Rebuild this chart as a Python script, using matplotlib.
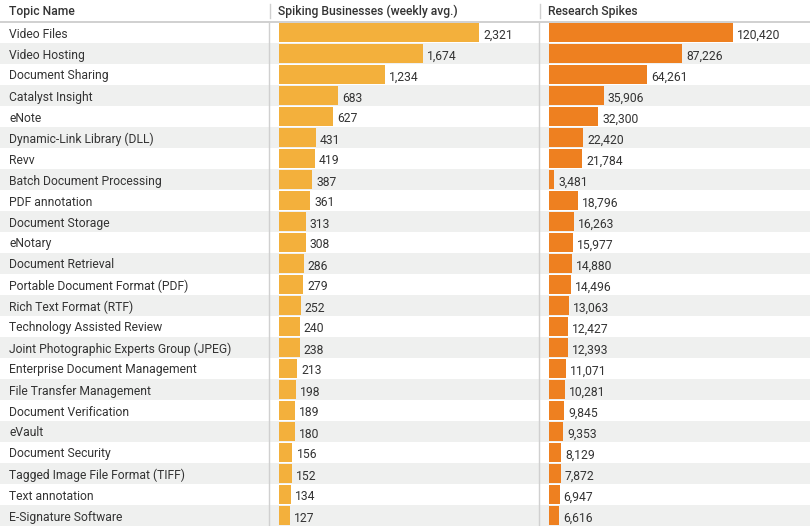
import matplotlib

matplotlib.use("Agg")
import matplotlib.pyplot as plt
from matplotlib.transforms import offset_copy

topics = [
    "Video Files", "Video Hosting", "Document Sharing", "Catalyst Insight", "eNote",
    "Dynamic-Link Library (DLL)", "Revv", "Batch Document Processing", "PDF annotation",
    "Document Storage", "eNotary", "Document Retrieval", "Portable Document Format (PDF)",
    "Rich Text Format (RTF)", "Technology Assisted Review", "Joint Photographic Experts Group (JPEG)",
    "Enterprise Document Management", "File Transfer Management", "Document Verification",
    "eVault", "Document Security", "Tagged Image File Format (TIFF)", "Text annotation",
    "E-Signature Software",
]
spiking = [2321, 1674, 1234, 683, 627, 431, 419, 387, 361, 313, 308, 286, 279, 252,
           240, 238, 213, 198, 189, 180, 156, 152, 134, 127]
research = [120420, 87226, 64261, 35906, 32300, 22420, 21784, 3481, 18796, 16263, 15977,
            14880, 14496, 13063, 12427, 12393, 11071, 10281, 9845, 9353, 8129, 7872, 6947, 6616]
headers = ["Topic Name", "Spiking Businesses (weekly avg.)", "Research Spikes"]

plt.rcParams["font.family"] = ["Roboto", "DejaVu Sans"]

W, H = 810, 526
ROW = 21.0
HEAD = 22.0
n = len(topics)
ylim = (n - 0.5, -0.5 - HEAD / ROW)
TXT = "#333333"
GRID = "#d0d0d0"
FS = 8.7

fig = plt.figure(figsize=(W / 100, H / 100), dpi=100)
bg = fig.add_axes([0, 0, 1, 1])
bg.set_xlim(0, W)
bg.set_ylim(*ylim)
bg.axis("off")
for i in range(n):
    if i % 2 == 1:
        bg.axhspan(i - 0.5, i + 0.5, color="#eff0ef", lw=0)
bg.axhline(-0.5, color="#c8c8c8", lw=1.2)
head_y = -0.5 - HEAD / ROW / 2
for x in (269, 539):
    bg.plot([x, x], [n - 0.5, -0.5], color=GRID, lw=1)
    bg.plot([x + 1, x + 1], [-0.5 - 4 / ROW, -0.5 - 18 / ROW], color=GRID, lw=1)
for x, h in zip((9, 278, 548), headers):
    bg.text(x, head_y, h, ha="left", va="center", fontsize=FS, fontweight=500, color=TXT)
name_tr = offset_copy(bg.transData, fig=fig, x=0, y=-1.5, units="dots")
for i, t in enumerate(topics):
    bg.text(9, i, t, transform=name_tr, ha="left", va="center", fontsize=FS, color=TXT)


def bar_column(left_px, width_px, values, color, scale_px):
    # scale_px: pixels per unit; bars start 10 px in from the column edge
    ax = fig.add_axes([left_px / W, 0, width_px / W, 1])
    ax.patch.set_alpha(0)
    ax.set_xlim(-10 / scale_px, (width_px - 10) / scale_px)
    ax.set_ylim(*ylim)
    ax.axis("off")
    ax.barh(range(n), values, height=19 / ROW, color=color, lw=0)
    tr = offset_copy(ax.transData, fig=fig, x=4, y=-2.5, units="dots")
    for i, v in enumerate(values):
        ax.text(v, i, f"{v:,}", transform=tr, ha="left", va="center", fontsize=FS, color=TXT)
    return ax


bar_column(269, 270, spiking, "#f3b03c", 200 / 2321)
bar_column(539, 271, research, "#ee8020", 184 / 120420)

fig.savefig("out.png", dpi=100)
